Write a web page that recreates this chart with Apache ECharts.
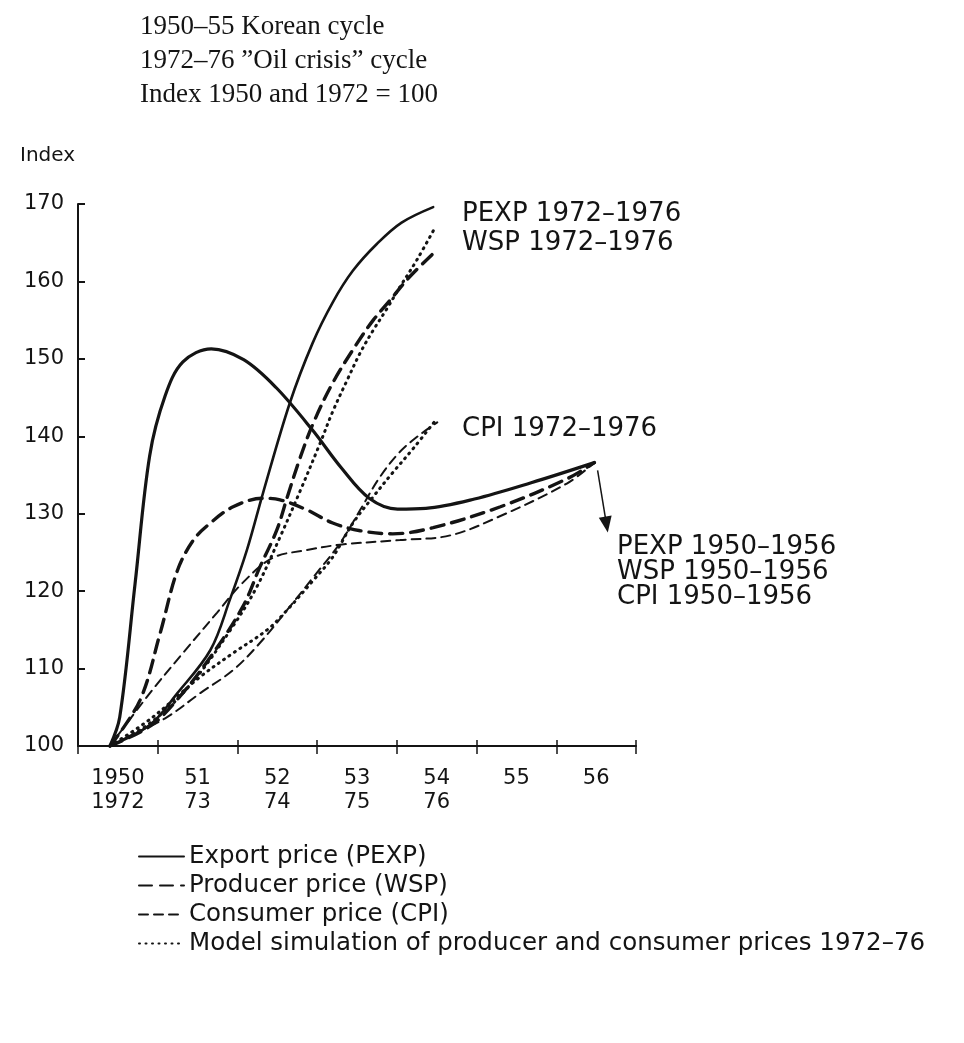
<!DOCTYPE html>
<html lang="en">
<head>
    <meta charset="UTF-8">
    <title>Korean cycle vs oil crisis cycle</title>
    <script src="https://cdn.jsdelivr.net/npm/echarts@6/dist/echarts.min.js"></script>
    <style>
        html, body { margin: 0; padding: 0; background: #fff; }
    </style>
</head>
<body>
<div id="main" style="width: 964px;height:1043px;"></div>
<script type="text/javascript">
    // x = years after 1950 (Korean) / 1972 (oil crisis), y = index
    var yearLabels = ['1950\n1972', '51\n73', '52\n74', '53\n75', '54\n76', '55', '56'];

    var pexpKorea = [[0,100],[0.12,103.7],[0.31,121.0],[0.49,137.5],[0.68,145.2],[0.9,149.6],[1.25,151.3],
        [1.65,149.9],[2.05,146.3],[2.5,140.8],[2.85,136.0],[3.2,132.0],[3.55,130.6],[3.9,130.7],
        [4.5,131.9],[5.2,134.0],[5.98,136.6]];
    var pexpOil = [[0,100],[0.49,102.7],[0.83,106.8],[1.24,112.4],[1.48,118.9],[1.69,125.3],[1.89,132.7],
        [2.22,144.3],[2.5,152.0],[2.75,157.3],[3.0,161.4],[3.3,164.9],[3.6,167.6],[3.99,169.6]];

    var wspKorea = [[0,100],[0.37,105.9],[0.62,114.6],[0.83,122.6],[1.03,126.6],[1.24,128.8],[1.52,130.9],
        [1.89,132.0],[2.1,131.8],[2.43,130.5],[2.75,128.8],[3.09,127.8],[3.49,127.4],[3.99,128.2],
        [4.82,130.9],[5.64,134.5],[5.98,136.6]];
    var wspOil = [[0,100],[0.5,102.6],[0.83,106.0],[1.24,111.5],[1.64,118.0],[1.85,123.1],[2.06,127.9],
        [2.19,132.2],[2.35,137.3],[2.51,141.7],[2.75,146.9],[3.05,152.0],[3.25,155.0],[3.46,157.6],
        [3.7,160.6],[4.04,164.1]];

    var cpiKorea = [[0,100],[0.49,106.8],[0.9,112.0],[1.32,117.2],[1.64,121.1],[2.01,124.3],[2.43,125.3],
        [2.84,126.0],[3.58,126.6],[4.2,127.2],[4.82,129.7],[5.64,133.9],[5.98,136.6]];
    var cpiOil = [[0,100],[0.28,101.5],[0.7,103.7],[1.11,106.8],[1.52,109.8],[1.85,113.3],[2.19,117.6],
        [2.51,121.8],[2.84,126.2],[3.09,130.5],[3.33,134.7],[3.58,138.0],[3.8,140.0],[4.04,141.8]];

    var modelWsp = [[0,100],[0.5,103.0],[1.0,108.0],[1.52,115.5],[1.81,120.5],[2.1,127.0],[2.35,133.0],
        [2.59,139.0],[2.75,143.2],[2.93,147.3],[3.09,150.8],[3.25,153.7],[3.42,156.5],[3.58,159.3],
        [3.79,162.8],[4.01,166.9]];
    var modelCpi = [[0,100],[0.5,103.5],[1.11,108.9],[1.52,112.0],[1.94,115.0],[2.19,117.6],[2.51,121.4],
        [2.75,124.4],[3.0,128.8],[3.25,132.2],[3.49,135.3],[3.75,138.5],[4.0,141.8]];

    // arrow from the 1956 end points down to the Korean-cycle labels
    var arrowFrom = [6.02, 135.6];
    var arrowTo = [6.13, 128.6];

    var legendNames = ['Export price (PEXP)', 'Producer price (WSP)', 'Consumer price (CPI)',
        'Model simulation of producer and consumer prices 1972\u201376'];

    var ink = '#141414';
    var sans = '"DejaVu Sans", Verdana, sans-serif';
    var serif = '"Liberation Serif", "Times New Roman", serif';

    function line(name, data, width, type) {
        return {
            name: name,
            type: 'line',
            xAxisIndex: 2,
            data: data,
            smooth: 0.35,
            symbol: 'none',
            lineStyle: { color: ink, width: width, type: type, cap: 'round' },
            itemStyle: { color: ink },
            z: 3
        };
    }

    var chartDom = document.getElementById('main');
    var myChart = echarts.init(chartDom);
    var option;

    var series = [
        line(legendNames[0], pexpKorea, 3.2, 'solid'),
        line(legendNames[0], pexpOil, 2.6, 'solid'),
        line(legendNames[1], wspKorea, 3.4, [13, 8]),
        line(legendNames[1], wspOil, 3.4, [13, 8]),
        line(legendNames[2], cpiKorea, 2, [9, 6]),
        line(legendNames[2], cpiOil, 2, [9, 6]),
        line(legendNames[3], modelWsp, 3, [1, 5.5]),
        line(legendNames[3], modelCpi, 3, [1, 5.5])
    ];
    series[0].markLine = {
        silent: true,
        symbol: ['none', 'triangle'],
        symbolSize: [13, 16],
        label: { show: false },
        lineStyle: { color: ink, width: 1.5, type: 'solid' },
        data: [[{ coord: arrowFrom }, { coord: arrowTo }]]
    };

    option = {
        animation: false,
        backgroundColor: '#fff',
        textStyle: { fontFamily: sans, color: ink },
        grid: { left: 78, top: 204, width: 558, height: 542 },
        legend: {
            data: legendNames,
            orient: 'vertical',
            left: 133,
            top: 839,
            itemWidth: 45,
            itemHeight: 14,
            itemGap: 4,
            selectedMode: false,
            itemStyle: { opacity: 0 },
            textStyle: { fontSize: 24.5, lineHeight: 24, color: ink, fontFamily: sans }
        },
        xAxis: [
            {
                type: 'category',
                position: 'bottom',
                data: yearLabels,
                boundaryGap: true,
                axisLine: { lineStyle: { color: ink, width: 2 } },
                axisTick: { show: true, length: 8, lineStyle: { color: ink, width: 1.5 } },
                axisLabel: { color: ink, fontSize: 21, lineHeight: 24, margin: 21, fontFamily: sans },
                splitLine: { show: false }
            },
            {
                type: 'category',
                position: 'bottom',
                data: yearLabels,
                boundaryGap: true,
                axisLine: { show: false },
                axisTick: { show: true, inside: true, length: 6, lineStyle: { color: ink, width: 1.5 } },
                axisLabel: { show: false },
                splitLine: { show: false }
            },
            {
                type: 'value',
                position: 'bottom',
                min: -0.395,
                max: 6.494,
                show: false
            }
        ],
        yAxis: {
            type: 'value',
            min: 100,
            max: 170,
            interval: 10,
            axisLine: { show: true, onZero: false, lineStyle: { color: ink, width: 2 } },
            axisTick: { show: true, inside: true, length: 7, lineStyle: { color: ink, width: 2 } },
            axisLabel: { color: ink, fontSize: 21, margin: 14, fontFamily: sans },
            splitLine: { show: false }
        },
        graphic: [
            { type: 'text', left: 140, top: 13, style: { text: '1950\u201355 Korean cycle', font: '27px ' + serif, fill: ink } },
            { type: 'text', left: 140, top: 47, style: { text: '1972\u201376 \u201dOil crisis\u201d cycle', font: '27px ' + serif, fill: ink } },
            { type: 'text', left: 140, top: 81, style: { text: 'Index 1950 and 1972 = 100', font: '27px ' + serif, fill: ink } },
            { type: 'text', left: 20, top: 146, style: { text: 'Index', font: '20px ' + sans, fill: ink } },
            { type: 'text', left: 462, top: 201, style: { text: 'PEXP 1972\u20131976', font: '26px ' + sans, fill: ink } },
            { type: 'text', left: 462, top: 230, style: { text: 'WSP 1972\u20131976', font: '26px ' + sans, fill: ink } },
            { type: 'text', left: 462, top: 416, style: { text: 'CPI 1972\u20131976', font: '26px ' + sans, fill: ink } },
            { type: 'text', left: 617, top: 534, style: { text: 'PEXP 1950\u20131956', font: '26px ' + sans, fill: ink } },
            { type: 'text', left: 617, top: 559, style: { text: 'WSP 1950\u20131956', font: '26px ' + sans, fill: ink } },
            { type: 'text', left: 617, top: 584, style: { text: 'CPI 1950\u20131956', font: '26px ' + sans, fill: ink } }
        ],
        series: series
    };

    option && myChart.setOption(option);
    window.addEventListener("resize",function (){
        myChart.resize();
    })
</script>
</body>
</html>
